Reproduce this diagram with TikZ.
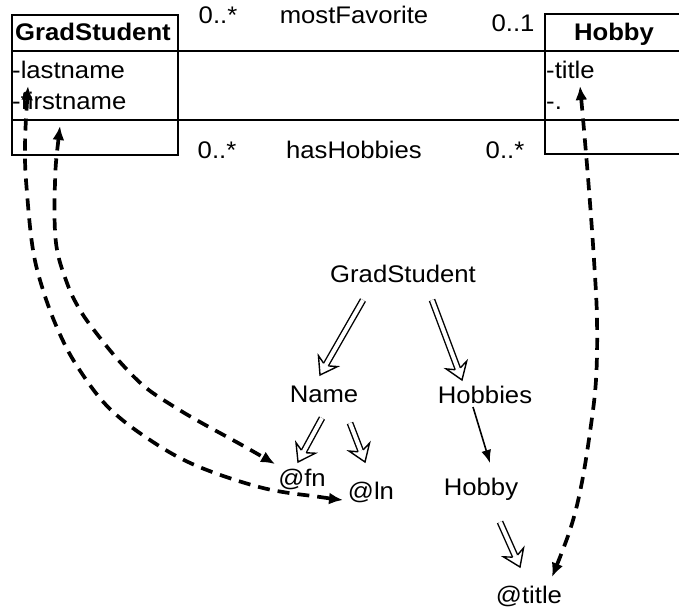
\documentclass[tikz,border=0pt]{standalone}
\usepackage{fontspec}
\usepackage{graphicx}
\setmainfont{Liberation Sans}
\usetikzlibrary{arrows.meta,decorations.markings}
\newcommand{\myx}[1]{\scalebox{1.07}[1]{#1}}
\begin{document}
\begin{tikzpicture}[x=1pt,y=-1pt,
  txt/.style={font=\fontsize{24}{28}\selectfont, inner sep=0pt, anchor=base},
  btxt/.style={font=\fontsize{24}{28}\selectfont\bfseries, inner sep=0pt, anchor=base},
  ltxt/.style={txt, anchor=base west},
  umlline/.style={line width=2pt},
  dbl/.style={preaction={draw, double, double distance=4pt, line width=1.4pt, shorten >=12pt},
     postaction={decorate},
     decoration={markings, mark=at position 1 with {
        \draw[line width=1.4pt, fill=white, line join=miter]
          (-12pt,2.7pt) -- (-16pt,11pt) -- (0pt,0pt) -- (-16pt,-11pt) -- (-12pt,-2.7pt);}}},
  solidarrow/.style={line width=1.6pt, -{Latex[length=13pt,width=10pt]}},
  dsh/.style={line width=3.7pt, dash pattern=on 12pt off 8pt,
     {Latex[length=14pt,width=12pt]}-{Latex[length=14pt,width=12pt]}}
]
\useasboundingbox (0,0) rectangle (679,607);

% UML class GradStudent
\node[draw, umlline, anchor=north west, minimum width=166pt, minimum height=140pt, inner sep=0pt] (gsbox) at (11,14) {};
\draw[umlline] (11,51) -- (177,51);
\draw[umlline] (11,120) -- (177,120);
\node[btxt] (gshead) at (93,41) {\myx{GradStudent}};
\node[ltxt] (gsln) at (12,79) {\myx{-lastname}};
\node[ltxt] (gsfn) at (12,110) {\myx{-firstname}};

% UML class Hobby (cut at the right edge)
\draw[umlline] (679,14) -- (545,14) -- (545,154) -- (679,154);
\draw[umlline] (545,51) -- (679,51);
\draw[umlline] (545,120) -- (679,120);
\node[btxt] (hbhead) at (614,41) {\myx{Hobby}};
\node[ltxt] (hbtitle) at (546,79) {\myx{-title}};
\node[ltxt] (hbdot) at (546,110) {\myx{-.}};

% associations
\draw[umlline] (177,51) -- (545,51);
\draw[umlline] (177,120) -- (545,120);
\node[txt] (m1) at (218,24) {\myx{0..*}};
\node[txt] (mf) at (354,24) {\myx{mostFavorite}};
\node[txt] (m2) at (513,32) {\myx{0..1}};
\node[txt] (m3) at (217,158) {\myx{0..*}};
\node[txt] (hh) at (354,158) {\myx{hasHobbies}};
\node[txt] (m4) at (505,158) {\myx{0..*}};

% tree
\node[txt] (tgs) at (403,282) {\myx{GradStudent}};
\node[txt] (tname) at (324,402) {\myx{Name}};
\node[txt] (thobbies) at (485,403) {\myx{Hobbies}};
\node[txt] (tfn) at (302,486) {\myx{@fn}};
\node[txt] (tln) at (371,499) {\myx{@ln}};
\node[txt] (thobby) at (481,495) {\myx{Hobby}};
\node[txt] (ttitle) at (529,603) {\myx{@title}};

\path[dbl] ([shift={(-40,18)}]tgs.base) -- ([shift={(-4,-27)}]tname.base);
\path[dbl] ([shift={(29,18)}]tgs.base) -- ([shift={(-23,-23)}]thobbies.base);
\path[dbl] ([shift={(-2,16)}]tname.base) -- ([shift={(-4,-24)}]tfn.base);
\path[dbl] ([shift={(26,21)}]tname.base) -- ([shift={(-6,-37)}]tln.base);
\draw[solidarrow] ([shift={(-12,4)}]thobbies.base) -- ([shift={(9,-32)}]thobby.base);
\path[dbl] ([shift={(19,27)}]thobby.base) -- ([shift={(-9,-36)}]ttitle.base);

% dashed mapping connectors
\coordinate (gl) at (28,86);
\coordinate (gf) at (60,126);
\coordinate (ht) at (580,86);
\coordinate (fnin) at (275,464);
\coordinate (lnin) at (343,500);
\coordinate (ttin) at (552,577);

\draw[dsh] plot[smooth, tension=0.6] coordinates {(gf) (55,183) (56,243) (67,283) (80,310) (97,334) (120,362) (145,387) (173,406) (200,422) (240,444) (fnin)};
\draw[dsh] plot[smooth, tension=0.6] coordinates {(gl) (25,150) (27,193) (33,250) (43,290) (58,330) (77,366) (108,407) (150,440) (197,466) (263,488) (320,497) (lnin)};
\draw[dsh] plot[smooth, tension=0.6] coordinates {(ht) (584,130) (589,190) (594,260) (597,320) (596,380) (590,432) (581,487) (570,530) (ttin)};
\end{tikzpicture}
\end{document}
